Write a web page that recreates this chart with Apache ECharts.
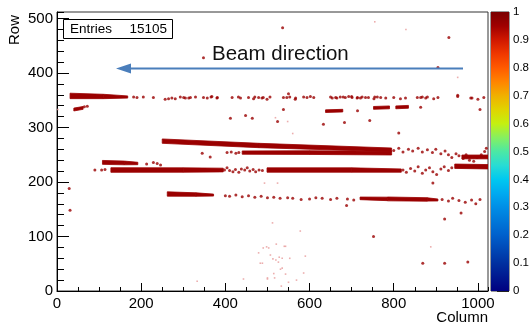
<!DOCTYPE html>
<html><head><meta charset="utf-8">
<script src="https://cdn.jsdelivr.net/npm/echarts@6/dist/echarts.min.js"></script>
<style>html,body{margin:0;padding:0;background:#fff}#c{width:532px;height:325px}</style>
</head><body><div id="c"></div>
<script>
// ---- data ----
const xRange = [0, 1024];
const yRange = [0, 512];
const xTickLabels = [0, 200, 400, 600, 800, 1000];
const yTickLabels = [0, 100, 200, 300, 400, 500];
const zTickLabels = [0, 0.1, 0.2, 0.3, 0.4, 0.5, 0.6, 0.7, 0.8, 0.9, 1];
const entries = 15105;

// dense track segments: [col1, row1, col2, row2, halfWidth1 (rows), halfWidth2 (rows)]
const tracks = [
  [31,358,110,357,5,4],[110,357,168,356,4,2],
  [40,333,62,336,2.6,2.6],
  [250,275,480,267,4,4],[480,267,795,259,4,3.4],
  [440,254,600,254,3,3.4],[600,254,795,253,3.4,3.4],
  [108,236,160,235,3.6,3.4],[160,235,192,234,3.4,2.2],
  [128,222,300,222,4.2,4],[300,222,395,222,4,3.4],
  [499,222,700,222,4,4],[700,222,818,221,4,3],
  [945,229,1024,228,4,4],
  [962,246,1024,246,3.5,3.5],
  [262,178,330,177,4,3.2],[330,177,372,176,3.2,1.8],
  [720,170,785,169,2.4,3.2],[785,169,880,168,3.5,3.2],[880,168,905,167,3,1.8],
  [638,330,679,331,2.4,2.4],[752,336,790,337,2.6,2.6],[805,337,835,338,2.6,2.6]
];

// isolated hits, value 1
const hits = [
  [182,356],[190,355],[205,356],[229,355],[257,352],[265,353],[273,354],[281,353],[301,355],[313,354],
  [329,356],[348,355],[368,357],[380,354],[416,355],[436,354],[455,355],[467,353],[479,355],[487,354],
  [499,352],[506,356],[546,355],[566,352],[586,356],[594,355],[602,357],[610,355],[654,354],[662,355],
  [673,356],[685,355],[693,357],[701,355],[713,354],[725,356],[733,355],[753,353],[761,356],[769,355],
  [781,354],[800,355],[816,353],[828,354],[856,355],[868,356],[876,354],[895,353],[905,355],[952,357],
  [986,354],[1000,352],[1014,355],[293,356],[305,354],[317,355],[357,354],[366,356],[381,355],[431,356],
  [470,356],[490,355],[538,355],[553,356],[567,354],[650,356],[665,354],[680,356],[700,357],[714,355],
  [721,354],[740,355],[755,356],[864,355],[880,356],[983,354],
  [65,338],[72,339],
  [412,317],[448,322],[464,317],[524,311],[538,333],[550,362],[633,306],[683,309],[743,313],[812,290],
  [952,359],[1005,333],[864,337],[714,331],
  [536,483],[348,428],[931,465],[905,410],
  [29,188],[31,148],[345,253],[364,246],[893,198],[960,143],[921,132],[752,100],[688,157],
  [869,51],[921,51],[976,53],
  [90,222],[106,222],[114,223],
  [213,233],[229,236],[238,234],[246,231],
  [398,222],[404,226],[410,221],[418,219],[424,223],[432,218],[438,224],[446,222],[452,226],[458,220],
  [466,223],[472,219],[480,222],[488,221],
  [404,254],[414,255],[425,253],[432,254],
  [800,258],[812,262],[822,255],[835,260],[845,257],[858,262],[868,255],[880,259],[892,254],[900,260],
  [912,252],[922,257],[930,250],[938,245],[948,252],[955,248],[965,243],[972,250],[980,240],[990,238],
  [998,245],[1008,250],[1016,256],[1020,262],
  [822,222],[830,218],[840,225],[850,220],[858,228],[868,216],[876,222],[885,226],[893,219],[902,214],
  [912,224],[920,228],[930,221],[938,226],
  [400,175],[410,174],[425,176],[440,173],[455,175],[470,172],[485,174],[500,171],[515,172],[530,170],
  [548,171],[560,170],[580,168],[600,169],[615,171],[630,170],[650,168],[665,170],[690,169],[705,167],
  [915,168],[930,165],[940,170],[955,166],[970,163],[985,167],[995,160],[1005,168]
];

// faint single hits
const faintHits = [
  [2,333],[755,494],[829,480],[952,392],[493,198],[524,198],[512,125],[888,81],[333,18],[443,22],
  [578,110],[519,318],[548,311],[560,289],
  [479,70],[490,79],[498,81],[521,86],[543,82],[488,51],[507,66],[513,59],[526,53],[535,60],
  [531,40],[515,32],[500,22],[533,9],[550,16],[483,51],[503,79],[540,82],[553,60],[590,64],
  [535,42],[543,31],[586,33],[517,24],[569,20],[500,24],[520,57],[528,62]
];

// ---- chart ----
const FONT = 'Liberation Sans';
const RED = '#9a0000';
const chart = echarts.init(document.getElementById('c'), null, {renderer: 'canvas'});

const paletteStops = [
  {offset: 0.00, color: '#7a0000'},
  {offset: 0.05, color: '#a00000'},
  {offset: 0.10, color: '#d01800'},
  {offset: 0.15, color: '#f03800'},
  {offset: 0.20, color: '#ff5a00'},
  {offset: 0.25, color: '#ff8400'},
  {offset: 0.30, color: '#f0b000'},
  {offset: 0.35, color: '#e0d400'},
  {offset: 0.40, color: '#c4f010'},
  {offset: 0.45, color: '#86f060'},
  {offset: 0.50, color: '#4ce8a4'},
  {offset: 0.55, color: '#28dcd4'},
  {offset: 0.60, color: '#00c8f0'},
  {offset: 0.65, color: '#00aaf0'},
  {offset: 0.70, color: '#008ee6'},
  {offset: 0.80, color: '#0060cc'},
  {offset: 0.90, color: '#0030a0'},
  {offset: 1.00, color: '#000080'}
];

const labelFmt = v => String(+v.toFixed(1));

chart.setOption({
  animation: false,
  backgroundColor: '#fff',
  grid: [
    {left: 57, top: 12, width: 431, height: 279, show: true, borderColor: '#333', borderWidth: 1, backgroundColor: 'transparent'},
    {left: 491, top: 12, width: 23, height: 279, show: true, borderColor: '#333', borderWidth: 1}
  ],
  xAxis: [
    {type: 'value', gridIndex: 0, min: xRange[0], max: xRange[1], interval: 200, position: 'bottom',
     axisLine: {show: true, onZero: false, lineStyle: {color: '#000', width: 1}},
     axisTick: {show: true, inside: true, length: 8, lineStyle: {color: '#000'}},
     axisLabel: {show: true, fontFamily: FONT, fontSize: 15, color: '#000', margin: 5, showMaxLabel: false,
                 formatter: v => xTickLabels.includes(v) ? String(v) : ''},
     splitLine: {show: false}},
    {type: 'value', gridIndex: 0, min: xRange[0], max: xRange[1], interval: 50, position: 'bottom', offset: 0,
     axisLine: {show: false}, axisTick: {show: true, inside: true, length: 4, lineStyle: {color: '#000'}},
     axisLabel: {show: false}, splitLine: {show: false}},
    {type: 'category', gridIndex: 1, data: ['z'], show: false}
  ],
  yAxis: [
    {type: 'value', gridIndex: 0, min: yRange[0], max: yRange[1], interval: 100, position: 'left',
     axisLine: {show: true, onZero: false, lineStyle: {color: '#000', width: 1}},
     axisTick: {show: true, inside: true, length: 12, lineStyle: {color: '#000'}},
     axisLabel: {show: true, fontFamily: FONT, fontSize: 15, color: '#000', margin: 4, showMaxLabel: false,
                 formatter: v => yTickLabels.includes(v) ? String(v) : ''},
     splitLine: {show: false}},
    {type: 'value', gridIndex: 0, min: yRange[0], max: yRange[1], interval: 20, position: 'left', offset: 0,
     axisLine: {show: false}, axisTick: {show: true, inside: true, length: 7, lineStyle: {color: '#000'}},
     axisLabel: {show: false}, splitLine: {show: false}},
    {type: 'value', gridIndex: 1, min: 0, max: 1, interval: 0.1, position: 'right',
     axisLine: {show: false},
     axisTick: {show: true, inside: true, length: 12, lineStyle: {color: '#222'}},
     axisLabel: {show: true, fontFamily: FONT, fontSize: 11.5, color: '#000', margin: 4,
                 formatter: v => zTickLabels.includes(+v.toFixed(1)) ? labelFmt(v) : ''},
     splitLine: {show: false}}
  ],
  series: [
    {type: 'bar', xAxisIndex: 2, yAxisIndex: 2, data: [1], barWidth: '100%', silent: true, z: 1,
     itemStyle: {color: new echarts.graphic.LinearGradient(0, 0, 0, 1, paletteStops)}},
    {type: 'custom', xAxisIndex: 0, yAxisIndex: 0, data: tracks, clip: true, z: 3,
     encode: {x: [0, 2], y: [1, 3]},
     renderItem: (params, api) => {
       const x1 = api.value(0), y1 = api.value(1), x2 = api.value(2), y2 = api.value(3);
       const h1 = api.value(4), h2 = api.value(5);
       const pts = [api.coord([x1, y1 + h1]), api.coord([x2, y2 + h2]),
                    api.coord([x2, y2 - h2]), api.coord([x1, y1 - h1])];
       return {type: 'polygon', shape: {points: pts, smooth: 0}, style: {fill: RED, stroke: RED, lineWidth: 0.8}};
     }},
    {type: 'scatter', xAxisIndex: 0, yAxisIndex: 0, data: faintHits, symbol: 'rect', symbolSize: 1.6,
     itemStyle: {color: '#e79a9a'}, silent: true, z: 2},
    {type: 'scatter', xAxisIndex: 0, yAxisIndex: 0, data: hits, symbol: 'circle', symbolSize: 3,
     itemStyle: {color: RED}, silent: true, z: 3}
  ],
  graphic: [
    {type: 'rect', shape: {x: 63.5, y: 19.5, width: 109, height: 19}, style: {fill: '#fff', stroke: '#000', lineWidth: 1}, z: 10},
    {type: 'text', x: 70, y: 29.5, style: {text: 'Entries', fontFamily: FONT, fontSize: 13.5, fill: '#000', textVerticalAlign: 'middle'}, z: 11},
    {type: 'text', x: 167, y: 29.5, style: {text: String(entries), fontFamily: FONT, fontSize: 13.5, fill: '#000', textAlign: 'right', textVerticalAlign: 'middle'}, z: 11},
    {type: 'line', shape: {x1: 463, y1: 68.5, x2: 128, y2: 68.5}, style: {stroke: '#4a7ebb', lineWidth: 2}, z: 10},
    {type: 'polygon', shape: {points: [[116, 68.5], [131, 63.5], [131, 73.5]]}, style: {fill: '#4a7ebb'}, z: 10},
    {type: 'text', x: 212, y: 54, style: {text: 'Beam direction', fontFamily: FONT, fontSize: 20.5, fill: '#111', textVerticalAlign: 'middle'}, z: 10},
    {type: 'text', x: 15, y: 15, rotation: Math.PI / 2, style: {text: 'Row', fontFamily: FONT, fontSize: 15, fill: '#000', textAlign: 'right', textVerticalAlign: 'middle'}, z: 10},
    {type: 'text', x: 488, y: 318, style: {text: 'Column', fontFamily: FONT, fontSize: 15, fill: '#000', textAlign: 'right', textVerticalAlign: 'middle'}, z: 10}
  ]
});
</script></body></html>
